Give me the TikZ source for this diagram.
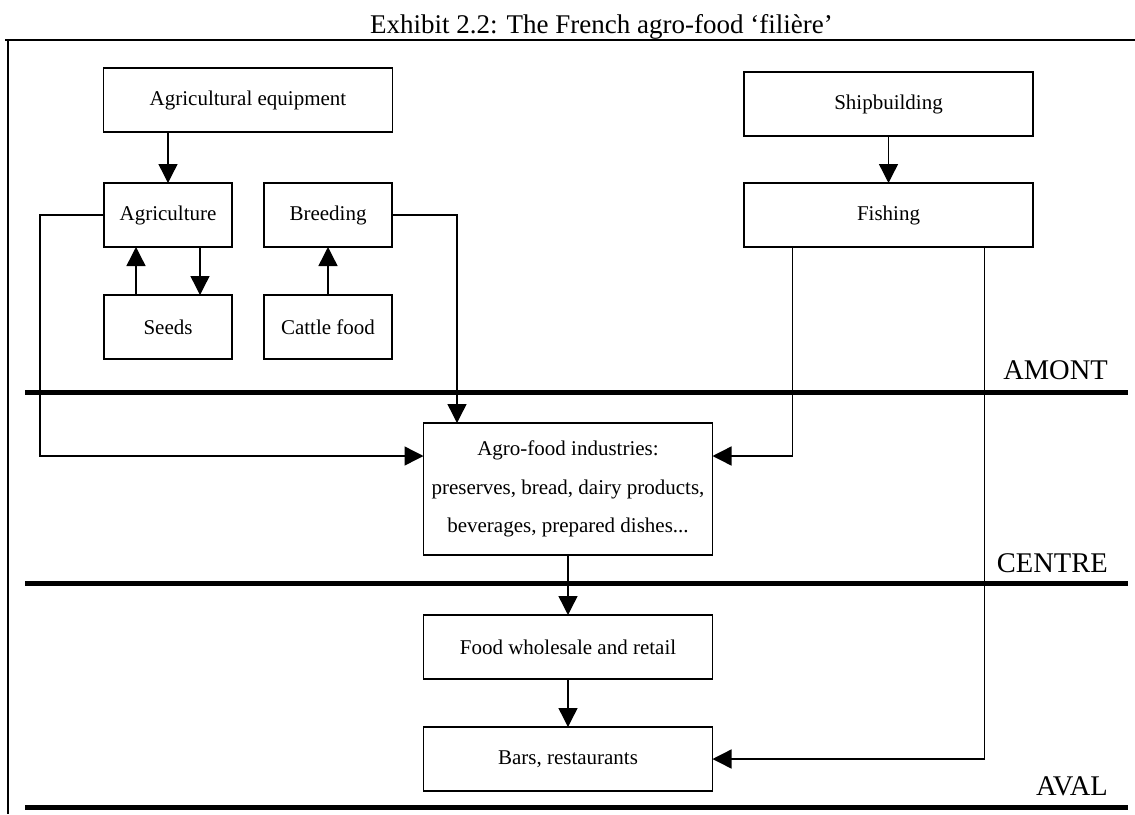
\documentclass[tikz,border=0pt]{standalone}
\usepackage{fontspec}
\setmainfont{Liberation Serif}
\usetikzlibrary{arrows.meta, positioning}

\begin{document}
\begin{tikzpicture}[
        x=1pt, y=-1pt,
        node distance=48pt and 32pt,
        box/.style={rectangle, draw, line width=1.3pt, inner sep=0pt, outer sep=0pt,
                    minimum height=64pt, align=center,
                    font=\fontsize{21}{25}\selectfont},
        narrowbox/.style={box, minimum width=128pt},
        widebox/.style={box, minimum width=289pt},
        arrow/.style={-{Triangle[length=19pt, width=19pt]}, line width=1.4pt},
        band/.style={line width=5pt},
        zone/.style={anchor=base east, inner sep=0pt, font=\fontsize{28.5}{32}\selectfont},
    ]
        \useasboundingbox (0,0) rectangle (1135,814);

        % frame and title
        \node[anchor=base west, inner sep=0pt, font=\fontsize{27}{30}\selectfont] (title)
            at (370,33) {Exhibit 2.2: The French agro-food ‘filière’};
        \draw[line width=1.5pt] (5,40) -- (1135,40);
        \draw[line width=1.2pt] (8,40) -- (8,814);

        % amont
        \node[widebox] (equip) at (248,100) {Agricultural equipment};
        \node[narrowbox] (agri) at (168,215) {Agriculture};
        \node[narrowbox, right=of agri] (breed) {Breeding};
        \node[narrowbox, below=of agri] (seeds) {Seeds};
        \node[narrowbox, below=of breed] (cattle) {Cattle food};
        \node[widebox] (ship) at (888.5,104) {Shipbuilding};
        \node[widebox, below=47pt of ship] (fish) {Fishing};

        % centre and aval
        \node[widebox, minimum height=132pt, font=\fontsize{21}{38.5}\selectfont] (agro) at (568,489)
            {Agro-food industries:\\preserves, bread, dairy products,\\beverages, prepared dishes...};
        \node[widebox, below=60pt of agro] (food) {Food wholesale and retail};
        \node[widebox, below=of food] (bars) {Bars, restaurants};

        % stage bands
        \draw[band] (25,392) coordinate (amontL) -- (1128,392) coordinate (amontR);
        \draw[band] (25,583) coordinate (centreL) -- (1128,583) coordinate (centreR);
        \draw[band] (25,807) coordinate (avalL) -- (1128,807) coordinate (avalR);
        \node[zone] (amont) at ([shift={(-20,-13)}]amontR) {AMONT};
        \node[zone] (centre) at ([shift={(-20,-11)}]centreR) {CENTRE};
        \node[zone] (aval) at ([shift={(-20,-12)}]avalR) {AVAL};

        \draw[arrow] (equip.south -| agri.north) -- (agri.north);
        \draw[arrow] ([xshift=32pt]agri.south) -- ([xshift=32pt]seeds.north);
        \draw[arrow] ([xshift=-32pt]seeds.north) -- ([xshift=-32pt]agri.south);
        \draw[arrow] (cattle) -- (breed);
        \draw[arrow] (ship) -- (fish);

        \draw[arrow] (agri.west) -- ++(-64,0) |- ([yshift=33pt]agro.west);
        \draw[arrow] (breed.east) -| ([xshift=-111pt]agro.north);
        \draw[arrow] ([xshift=-96pt]fish.south) |- ([yshift=33pt]agro.east);
        \draw[arrow] ([xshift=96pt]fish.south) |- (bars.east);

        \draw[arrow] (agro) -- (food);
        \draw[arrow] (food) -- (bars);

    \end{tikzpicture}
\end{document}
